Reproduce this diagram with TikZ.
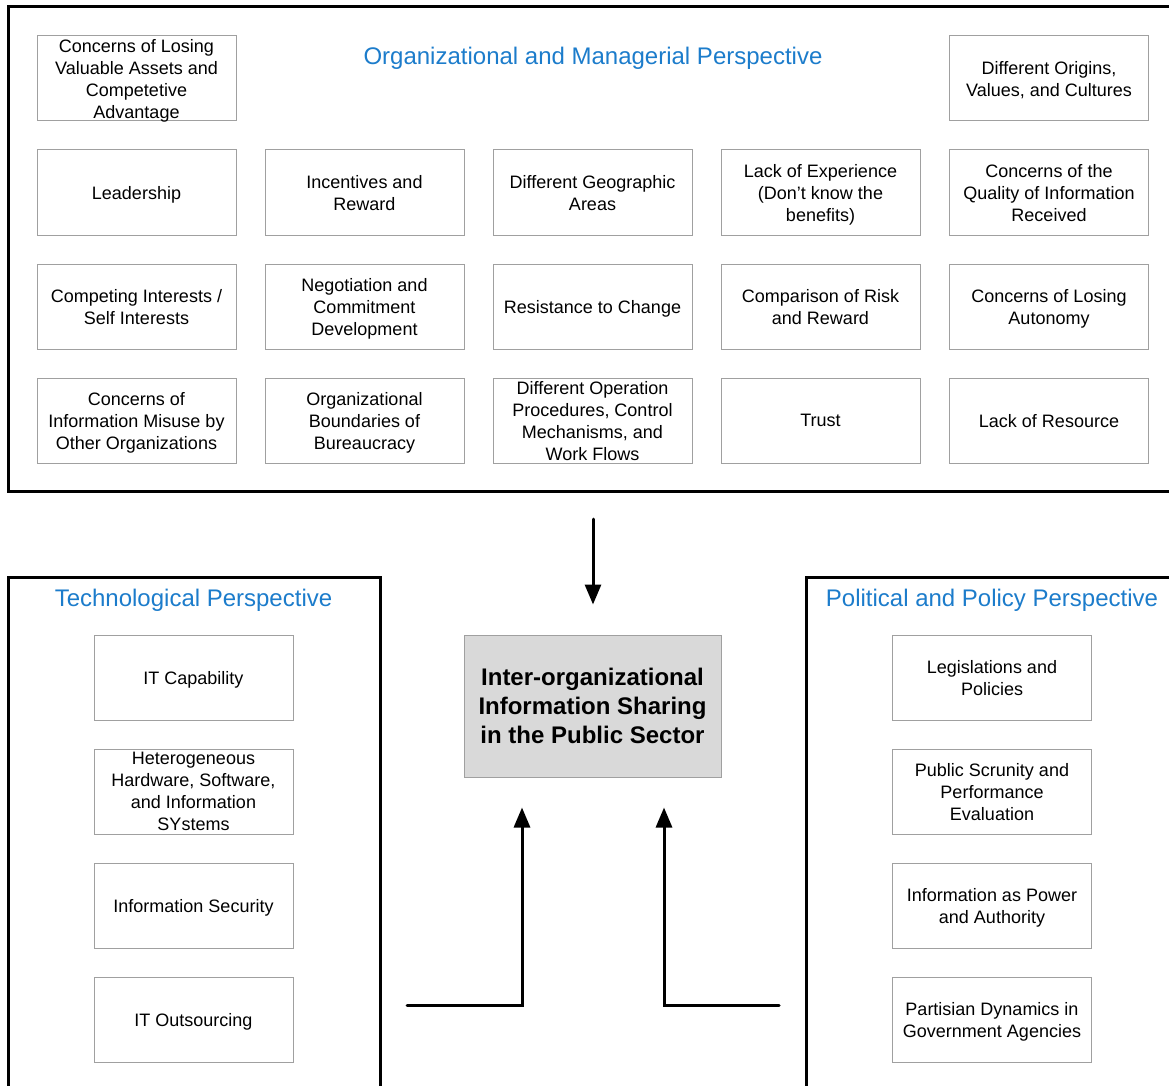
\documentclass[tikz,border=0pt]{standalone}
\usepackage{fontspec}
\setmainfont{Liberation Sans}
\usetikzlibrary{arrows.meta}
\definecolor{titleblue}{HTML}{1C7CCB}
\definecolor{boxgray}{HTML}{A0A0A0}
\definecolor{centerfill}{HTML}{D9D9D9}
\tikzset{
  factor/.style={draw=boxgray, line width=1pt, minimum width=199pt, minimum height=85pt,
    inner sep=0pt, align=center, font=\fontsize{18}{22}\selectfont, text depth=-1pt},
  frame/.style={draw=black, line width=3pt},
  ptitle/.style={text=titleblue, font=\fontsize{24}{28}\selectfont, inner sep=0pt},
  core/.style={draw=boxgray, fill=centerfill, line width=1pt, minimum width=257pt, minimum height=142pt,
    inner sep=0pt, align=center, font=\fontsize{24}{29}\bfseries\selectfont},
  arr/.style={line width=3pt, line cap=round, -{Triangle[width=16pt,length=20pt]}},
}
\begin{document}
\begin{tikzpicture}[x=1pt,y=-1pt]
\clip (0,0) rectangle (1169,1086);
\useasboundingbox (0,0) rectangle (1169,1086);
% frames
\draw[frame] (8,7) rectangle (1180,491);
\draw[frame] (8,577) rectangle (380,1100);
\draw[frame] (806,577) rectangle (1180,1100);
% titles
\node[ptitle] (torg) at (593,58.5) {Organizational and Managerial Perspective};
\node[ptitle] (ttech) at (193.5,600.5) {Technological Perspective};
\node[ptitle] (tpol) at (992,600.5) {Political and Policy Perspective};
% organizational factors
\node[factor] (o11) at (136.5,78.5) {Concerns of Losing\\Valuable Assets and\\Competetive\\Advantage};
\node[factor] (o15) at (1049,78.5) {Different Origins,\\Values, and Cultures};
\node[factor] (o21) at (136.5,192.5) {Leadership};
\node[factor] (o22) at (364.5,192.5) {Incentives and\\Reward};
\node[factor] (o23) at (592.5,192.5) {Different Geographic\\Areas};
\node[factor] (o24) at (820.5,192.5) {Lack of Experience\\(Don't know the\\benefits)};
\node[factor] (o25) at (1049,192.5) {Concerns of the\\Quality of Information\\Received};
\node[factor] (o31) at (136.5,306.5) {Competing Interests /\\Self Interests};
\node[factor] (o32) at (364.5,306.5) {Negotiation and\\Commitment\\Development};
\node[factor] (o33) at (592.5,306.5) {Resistance to Change};
\node[factor] (o34) at (820.5,306.5) {Comparison of Risk\\and Reward};
\node[factor] (o35) at (1049,306.5) {Concerns of Losing\\Autonomy};
\node[factor] (o41) at (136.5,420.5) {Concerns of\\Information Misuse by\\Other Organizations};
\node[factor] (o42) at (364.5,420.5) {Organizational\\Boundaries of\\Bureaucracy};
\node[factor] (o43) at (592.5,420.5) {Different Operation\\Procedures, Control\\Mechanisms, and\\Work Flows};
\node[factor] (o44) at (820.5,420.5) {Trust};
\node[factor] (o45) at (1049,420.5) {Lack of Resource};
% technological factors
\node[factor] (t1) at (193.5,677.5) {IT Capability};
\node[factor] (t2) at (193.5,791.5) {Heterogeneous\\Hardware, Software,\\and Information\\SYstems};
\node[factor] (t3) at (193.5,905.5) {Information Security};
\node[factor] (t4) at (193.5,1019.5) {IT Outsourcing};
% political factors
\node[factor] (p1) at (992,677.5) {Legislations and\\Policies};
\node[factor] (p2) at (992,791.5) {Public Scrunity and\\Performance\\Evaluation};
\node[factor] (p3) at (992,905.5) {Information as Power\\and Authority};
\node[factor] (p4) at (992,1019.5) {Partisian Dynamics in\\Government Agencies};
% core
\node[core] (core) at (592.5,706) {Inter-organizational\\Information Sharing\\in the Public Sector};
% arrows
\coordinate (dtop) at (593,519);
\coordinate (lstart) at (407,1005);
\coordinate (rstart) at (779,1005);
\draw[arr, shorten >=30pt] (dtop) -- (dtop |- core.north);
\draw[arr, shorten >=30pt] (lstart) -| ([xshift=-70.5pt]core.south);
\draw[arr, shorten >=30pt] (rstart) -| ([xshift=71.5pt]core.south);
\end{tikzpicture}
\end{document}
